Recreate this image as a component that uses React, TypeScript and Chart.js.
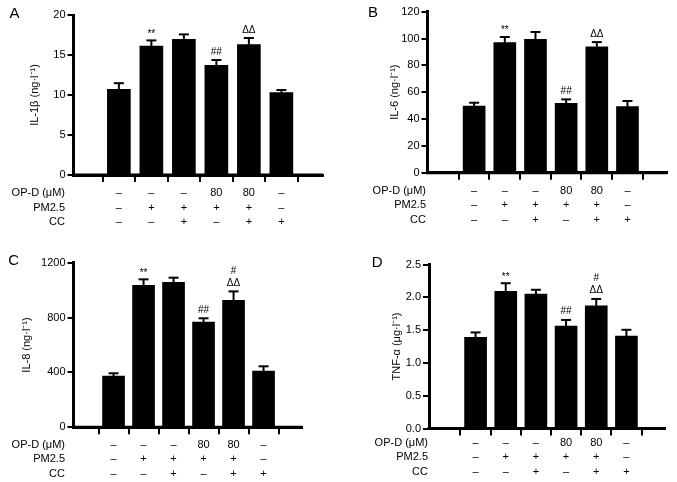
import React, { useEffect, useRef } from "react";
import { Chart, registerables } from "chart.js";

Chart.register(...registerables);
Chart.defaults.font.family = "'Liberation Sans', Arial, Helvetica, sans-serif";
Chart.defaults.color = "#000";

// ---- data ----
const groups = [1, 2, 3, 4, 5, 6];
const rowHeaders = ["OP-D (μM)", "PM2.5", "CC"];
const opdRow = ["–", "–", "–", "80", "80", "–"];
const pm25Row = ["–", "+", "+", "+", "+", "–"];
const ccRow = ["–", "–", "+", "–", "+", "+"];

const il1bMean = [10.7, 16.1, 16.95, 13.7, 16.3, 10.3];
const il1bSem = [0.9, 0.85, 0.75, 0.8, 0.95, 0.45];

const il6Mean = [49.7, 96.9, 99.4, 51.7, 93.9, 49.2];
const il6Sem = [3.2, 5.0, 6.2, 3.7, 4.2, 5.0];

const il8Mean = [374, 1035, 1057, 767, 925, 410];
const il8Sem = [27, 51, 41, 35, 73, 42];

const tnfMean = [1.39, 2.09, 2.05, 1.56, 1.87, 1.41];
const tnfSem = [0.09, 0.14, 0.08, 0.11, 0.12, 0.11];

const marksAB = ["", "**", "", "##", "ΔΔ", ""];
const marksTopAB = ["", "", "", "", "", ""];
const marksCD = ["", "**", "", "##", "ΔΔ", ""];
const marksTopCD = ["", "", "", "", "#", ""];

type Panel = {
  letter: string;
  title: string;
  mean: number[];
  sem: number[];
  yMax: number;
  yStep: number;
  decimals: number;
  marks: string[];
  marksTop: string[];
  left: number;
  top: number;
  w: number;
  h: number;
  area: { l: number; t: number; b: number; r: number };
  xMin: number;
  xMax: number;
  titlePad: number;
  headerX: number;
  labelPad: number;
  letterPos: [number, number];
  barW: number;
};

const panels: Panel[] = [
  {
    letter: "A", title: "IL-1β (ng·l⁻¹)", mean: il1bMean, sem: il1bSem, yMax: 20, yStep: 5, decimals: 0,
    marks: marksAB, marksTop: marksTopAB, left: 0, top: 0, w: 340, h: 241,
    area: { l: 73.5, t: 15, b: 175, r: 323 }, xMin: 0.244, xMax: 6.641, titlePad: 28.4, headerX: 65,
    labelPad: 4, letterPos: [9.5, 18], barW: 23,
  },
  {
    letter: "B", title: "IL-6 (ng·l⁻¹)", mean: il6Mean, sem: il6Sem, yMax: 120, yStep: 20, decimals: 0,
    marks: marksAB, marksTop: marksTopAB, left: 340, top: 0, w: 337, h: 241,
    area: { l: 87.5, t: 11.7, b: 172.7, r: 327 }, xMin: 0.13, xMax: 6.638, titlePad: 48.4, headerX: 86,
    labelPad: 4, letterPos: [28, 16.7], barW: 22,
  },
  {
    letter: "C", title: "IL-8 (ng·l⁻¹)", mean: il8Mean, sem: il8Sem, yMax: 1200, yStep: 400, decimals: 0,
    marks: marksCD, marksTop: marksTopCD, left: 0, top: 241, w: 340, h: 241,
    area: { l: 73.5, t: 21.7, b: 186.3, r: 302 }, xMin: 0.3, xMax: 6.647, titlePad: 20, headerX: 65,
    labelPad: 3, letterPos: [8.3, 24], barW: 22,
  },
  {
    letter: "D", title: "TNF-α (μg·l⁻¹)", mean: tnfMean, sem: tnfSem, yMax: 2.5, yStep: 0.5, decimals: 1,
    marks: marksCD, marksTop: marksTopCD, left: 340, top: 241, w: 337, h: 241,
    area: { l: 89, t: 23.5, b: 187.5, r: 325 }, xMin: 0.108, xMax: 6.627, titlePad: 50, headerX: 88,
    labelPad: 0, letterPos: [31.7, 25.7], barW: 22,
  },
];

const FONT = "'Liberation Sans', Arial, Helvetica, sans-serif";
const X_TICK_LEN = 7;
const ROW_LH = 14.5;

function makeOverlay(p: Panel) {
  return {
    id: "overlay" + p.letter,
    afterDatasetsDraw(chart: any) {
      const ctx = chart.ctx as CanvasRenderingContext2D;
      const xs = chart.scales.x;
      const ys = chart.scales.y;
      ctx.save();
      ctx.strokeStyle = "#000";
      ctx.fillStyle = "#000";
      // x axis baseline (solid, over bar bottoms)
      const y0 = ys.getPixelForValue(0);
      ctx.lineWidth = 3;
      ctx.beginPath();
      ctx.moveTo(xs.left - 1.5, y0);
      ctx.lineTo(xs.right, y0);
      ctx.stroke();
      ctx.lineWidth = 2;
      groups.forEach((g, i) => {
        const x = xs.getPixelForValue(g);
        const yBar = ys.getPixelForValue(p.mean[i]);
        const yTop = ys.getPixelForValue(p.mean[i] + p.sem[i]);
        ctx.beginPath();
        ctx.moveTo(x, yBar);
        ctx.lineTo(x, yTop + 1);
        ctx.stroke();
        ctx.beginPath();
        ctx.moveTo(x - 5, yTop + 1);
        ctx.lineTo(x + 5, yTop + 1);
        ctx.stroke();
        // significance marks
        ctx.font = `10px ${FONT}`;
        ctx.textAlign = "center";
        ctx.textBaseline = "alphabetic";
        const m = p.marks[i];
        if (m) {
          const off = m.includes("*") ? 2.5 : 4.5;
          ctx.fillText(m, x, yTop - off);
        }
        const mt = p.marksTop[i];
        if (mt) {
          ctx.fillText(mt, x, yTop - 4.5 - 12);
        }
      });
      // row headers
      ctx.font = `11px ${FONT}`;
      ctx.textAlign = "right";
      ctx.textBaseline = "middle";
      rowHeaders.forEach((t, k) => {
        const y = xs.top + X_TICK_LEN + p.labelPad + ROW_LH * (k + 0.5);
        ctx.fillText(t, p.headerX, y);
      });
      // panel letter
      ctx.font = `15px ${FONT}`;
      ctx.textAlign = "left";
      ctx.textBaseline = "alphabetic";
      ctx.fillText(p.letter, p.letterPos[0], p.letterPos[1]);
      ctx.restore();
    },
  };
}

function PanelChart({ p }: { p: Panel }) {
  const ref = useRef<HTMLCanvasElement | null>(null);
  useEffect(() => {
    if (!ref.current) return;
    const chart = new Chart(ref.current, {
      type: "bar",
      data: {
        datasets: [
          {
            data: groups.map((g, i) => ({ x: g, y: p.mean[i] })) as any,
            backgroundColor: "#000",
            borderWidth: 0,
            barThickness: p.barW,
          },
        ],
      },
      options: {
        animation: false,
        responsive: false,
        events: [],
        layout: { padding: { left: 0, top: p.area.t, right: p.w - p.area.r, bottom: 0 } },
        plugins: { legend: { display: false }, tooltip: { enabled: false } },
        scales: {
          x: {
            type: "linear",
            min: p.xMin,
            max: p.xMax,
            afterBuildTicks: (s: any) => {
              s.ticks = groups.map((v) => ({ value: v }));
            },
            afterFit: (s: any) => {
              s.height = p.h - p.area.b;
            },
            grid: {
              display: true,
              drawOnChartArea: false,
              drawTicks: true,
              tickLength: X_TICK_LEN,
              lineWidth: 2,
              color: "#000",
            },
            border: { display: true, width: 3, color: "#000" },
            ticks: {
              autoSkip: false,
              maxRotation: 0,
              padding: p.labelPad,
              color: "#000",
              font: { size: 11, lineHeight: ROW_LH + "px" },
              callback: (_v: any, i: number) => [opdRow[i], pm25Row[i], ccRow[i]],
            },
          },
          y: {
            type: "linear",
            min: 0,
            max: p.yMax,
            afterFit: (s: any) => {
              s.width = p.area.l;
            },
            ticks: {
              stepSize: p.yStep,
              padding: 2,
              color: "#000",
              font: { size: 11 },
              callback: (v: any) => Number(v).toFixed(p.decimals),
            },
            grid: { drawOnChartArea: false, drawTicks: true, tickLength: 6, lineWidth: 2, color: "#000" },
            border: { display: true, width: 3, color: "#000" },
            title: {
              display: true,
              text: p.title,
              color: "#000",
              font: { size: 11 },
              padding: { top: p.titlePad, bottom: 0 },
            },
          },
        },
      } as any,
      plugins: [makeOverlay(p)],
    });
    return () => chart.destroy();
  }, [p]);
  return (
    <canvas
      ref={ref}
      width={p.w}
      height={p.h}
      style={{ position: "absolute", left: p.left, top: p.top, width: p.w, height: p.h, display: "block" }}
    />
  );
}

export default function App() {
  return (
    <div style={{ position: "absolute", left: 0, top: 0, width: 677, height: 482, background: "#fff", overflow: "hidden" }}>
      {panels.map((p) => (
        <PanelChart key={p.letter} p={p} />
      ))}
    </div>
  );
}
